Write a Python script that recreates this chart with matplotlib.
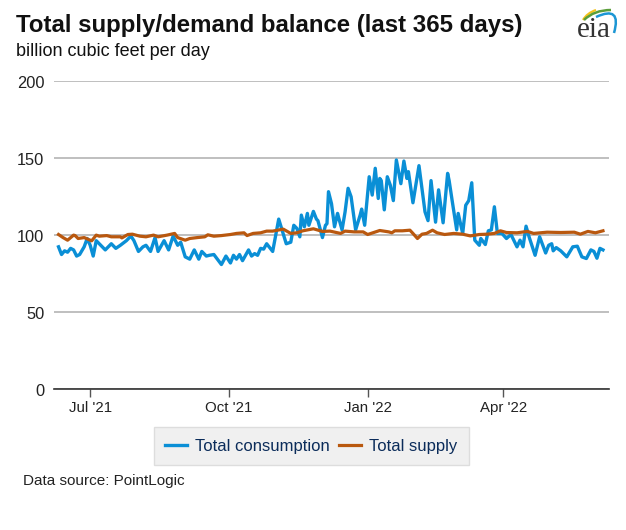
import pandas as pd
import matplotlib.pyplot as plt
from matplotlib.patches import PathPatch
from matplotlib.path import Path
from matplotlib.transforms import ScaledTranslation

plt.rcParams.update({
    "font.family": ["Liberation Sans", "DejaVu Sans"],
    "font.size": 11,
})

start = pd.Timestamp("2021-06-10")

# days since start
cons_days = [0, 2, 4, 6, 8, 10, 12, 14, 17, 19, 21, 23, 25, 28, 31, 35, 38, 41, 45, 48, 50, 53, 56, 58, 61, 64, 66, 70, 73, 76, 79, 81, 84, 87, 90, 93, 95, 98, 100, 103, 108, 111, 114, 116, 118, 120, 122, 126, 128, 130, 132, 134, 136, 138, 142, 146, 151, 154, 156, 158, 160, 161, 163, 165, 166, 169, 171, 172, 175, 177, 178,
             179, 181, 183, 185, 186, 188, 190, 192, 194, 197, 200, 201, 203, 206, 208, 210, 212, 213, 214, 216, 218, 220, 222, 224, 227, 229, 231, 232, 235, 239, 243, 245, 247, 250, 252, 255, 258, 259, 261, 264, 265, 268, 270, 272, 274, 276, 279, 280, 283, 285, 287, 289, 291, 294, 297, 300, 304, 306, 308, 310, 312, 316, 319, 323, 325, 327, 328, 330, 333, 337, 341, 344, 347, 350, 353, 355, 357, 359, 361]
cons_vals = [92, 87, 89.4, 88.5, 91, 90, 86, 87, 92, 97.4, 93, 86, 96, 93, 90, 94, 91, 93, 96, 99, 96, 89, 92, 93, 89, 98, 89, 96, 90, 99, 93, 95, 85.5, 84, 90, 84, 89, 86, 86.5, 87, 80.5, 86, 81.5, 86.5, 84, 87, 83, 90, 86, 87.6, 86.5, 91, 90.5, 94, 89, 110, 94, 95, 106, 104, 98.5, 112.6, 105, 113.7, 106, 115, 110, 109, 98, 106, 107,
             127.8, 120, 105, 113.7, 110, 103, 114.7, 130, 124.5, 103, 112.6, 116.5, 106, 137.5, 125.6, 143, 123.4, 136.4, 135, 116, 137.5, 132, 122, 148.4, 133, 147.7, 136.4, 140.8, 120.6, 144.7, 114.7, 109, 135, 108, 129, 107.6, 139.7, 135, 122, 103, 113.7, 100.7, 119, 122, 133.6, 96.3, 93, 97.4, 93.5, 102.4, 103, 118, 100.7, 100.7, 97.4, 100, 92, 96.3, 92, 105.4, 98.5, 86.5, 98.5, 88, 93, 94, 89.4, 91.5, 89.4, 85.5, 92, 92.4, 85.5, 84.4, 90, 89, 84.6, 91, 90]

sup_days = [0, 3, 6, 10, 11, 13, 17, 22, 25, 27, 32, 35, 41, 42, 46, 49, 54, 58, 63, 66, 72, 77, 79, 84, 87, 92, 97, 99, 103, 108, 114, 118, 123, 125, 129, 134, 138, 142, 149, 154, 158, 162, 169, 175, 180,
            187, 190, 196, 202, 205, 209, 213, 219, 221, 223, 228, 233, 235, 238, 241, 244, 248, 251, 256, 262, 268, 273, 279, 284, 289, 293, 297, 304, 311, 315, 324, 333, 342, 346, 351, 356, 361]
sup_vals = [100, 98, 96.3, 99.6, 99.3, 97.4, 98, 95.9, 99.6, 98.9, 99.3, 98.5, 98.5, 97.8, 100, 100.2, 98.9, 98.5, 99.6, 98.5, 99.6, 100.7, 98, 96.3, 97.4, 98, 98.5, 99.8, 98.9, 99.3, 100, 100.7, 101.1, 99.3, 100.7, 101.1, 102.2, 102.2, 103.5, 100.7, 101.1, 102.4, 103.7, 102, 102.2,
            100.7, 102.2, 101.7, 101.7, 100, 101.3, 102.6, 101.7, 101.1, 102.4, 102.4, 102.8, 100.7, 97.4, 100.2, 100.7, 102.8, 101.1, 100, 100.7, 100.2, 99.1, 100, 100.2, 100.7, 102.4, 101.3, 101.1, 102, 100.7, 101.5, 101.3, 101.5, 100.2, 102, 101.1, 102.4]

tick_dates = ["2021-07-01", "2021-10-01", "2022-01-01", "2022-04-01"]
tick_labels = ["Jul '21", "Oct '21", "Jan '22", "Apr '22"]
y_ticks = [0, 50, 100, 150, 200]

W, H = 626, 530
fig = plt.figure(figsize=(W / 100, H / 100), dpi=100)
ax = fig.add_axes([54 / W, 1 - 388.5 / H, 555 / W, 308 / H])

cons_x = start + pd.to_timedelta(cons_days, unit="D")
sup_x = start + pd.to_timedelta(sup_days, unit="D")
ax.plot(cons_x, cons_vals, color="#0a8fd6", lw=2.4, label="Total consumption")
ax.plot(sup_x, sup_vals, color="#b9580f", lw=2.3, label="Total supply")

ax.set_xlim(pd.Timestamp("2021-06-07"), pd.Timestamp("2022-06-10"))
ax.set_ylim(0, 200)
ax.set_yticks(y_ticks)
ax.set_xticks(pd.to_datetime(tick_dates))
ax.set_xticklabels(tick_labels)
ax.grid(True, axis="y", color="#b4b4b4", lw=1.2)
ax.set_axisbelow(True)
for s in ["top", "left", "right"]:
    ax.spines[s].set_visible(False)
ax.spines["bottom"].set_color("#333333")
ax.spines["bottom"].set_linewidth(1.2)
ax.tick_params(axis="y", length=0, pad=7, labelsize=11.8, labelcolor="#222222")
ax.tick_params(axis="x", length=6, width=1, color="#555555", pad=3, labelsize=10.8, labelcolor="#222222")
# y labels sit a little below their gridlines
for t in ax.get_yticklabels():
    t.set_transform(t.get_transform() + ScaledTranslation(0, -1.5 / 100, fig.dpi_scale_trans))

leg = fig.legend(loc="center", bbox_to_anchor=(311.5 / W, 1 - 446 / H), ncol=2, frameon=True, fancybox=False,
                 fontsize=12, handlelength=1.3, handletextpad=0.5, columnspacing=0.55,
                 borderpad=0.7, facecolor="#f0f0f0", edgecolor="#dddddd", framealpha=1)
for t in leg.get_texts():
    t.set_color("#0b2c5a")

fig.text(16 / W, 1 - 32 / H, "Total supply/demand balance (last 365 days)", fontsize=17.25, fontweight="bold", color="#111111")
fig.text(16 / W, 1 - 56 / H, "billion cubic feet per day", fontsize=13, color="#111111")
fig.text(23 / W, 1 - 485 / H, "Data source: PointLogic", fontsize=11, color="#222222")

# logo, in pixel coords
lg = fig.add_axes([0, 0, 1, 1], facecolor="none")
lg.set_xlim(0, W)
lg.set_ylim(H, 0)
lg.axis("off")
lg.text(577, 37, "eia", family="Liberation Serif", fontsize=21, color="#333333", va="baseline")
C3 = [Path.MOVETO, Path.CURVE3, Path.CURVE3]
lg.add_patch(PathPatch(Path([(583, 20), (587, 13), (596, 10)], C3), fc="none", ec="#f5c21a", lw=1.6))
lg.add_patch(PathPatch(Path([(584, 20), (594, 10), (611, 10)], C3), fc="none", ec="#5a9e3a", lw=1.8))
lg.add_patch(PathPatch(Path([(596, 17), (622, 5), (614, 33)], C3), fc="none", ec="#1c96d4", lw=1.8))

plt.savefig("out.png", dpi=100)
